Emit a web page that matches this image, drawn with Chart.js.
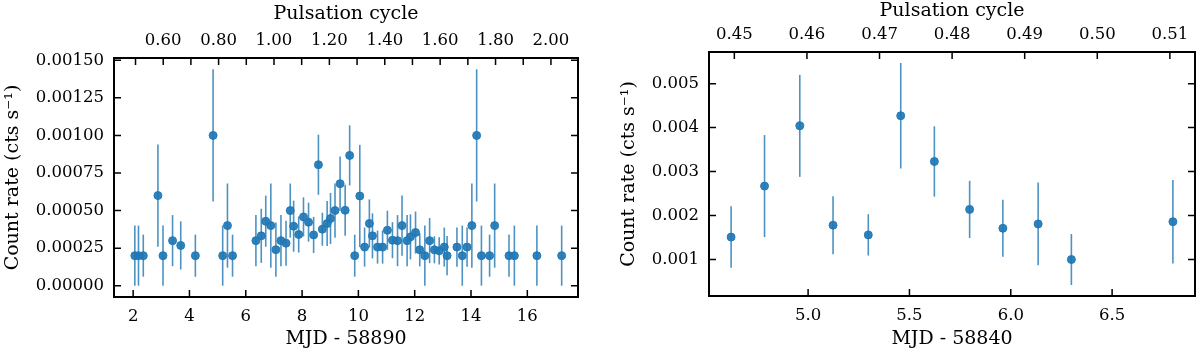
<!DOCTYPE html>
<html>
<head>
<meta charset="utf-8">
<script src="https://cdn.jsdelivr.net/npm/chart.js@4.4.0/dist/chart.umd.min.js"></script>
<style>
  body { margin: 0; background: #fff; }
  #contenedor { position: relative; width: 1200px; height: 352px; }
  .panel { position: absolute; top: 0; width: 600px; height: 352px; }
</style>
</head>
<body>
<div id="contenedor">
  <div class="panel" style="left:0"><canvas id="graficaA" width="600" height="352"></canvas></div>
  <div class="panel" style="left:600px"><canvas id="graficaB" width="600" height="352"></canvas></div>
</div>
<script>
// ---- panel izquierdo (MJD - 58890) ----
const mjdA = [2.06, 2.19, 2.36, 2.88, 3.06, 3.40, 3.69, 4.21, 4.84, 5.18, 5.35, 5.53,
              6.36, 6.55, 6.71, 6.89, 7.07, 7.25, 7.43, 7.58, 7.70, 7.88, 8.05, 8.23, 8.41, 8.58,
              8.72, 8.89, 9.01, 9.17, 9.35, 9.53, 9.69, 9.87, 10.05, 10.22, 10.39, 10.50, 10.68, 10.86,
              11.03, 11.21, 11.39, 11.55, 11.73, 11.85, 12.03, 12.18, 12.36, 12.53, 12.70, 12.87,
              13.05, 13.15, 13.50, 13.69, 13.86, 14.03, 14.20, 14.37, 14.66, 14.84, 15.35, 15.54,
              16.34, 17.22];
const tasaA = [0.00020, 0.00020, 0.00020, 0.00060, 0.00020, 0.00030, 0.000268, 0.00020, 0.00100, 0.00020, 0.00040, 0.00020,
               0.00030, 0.000332, 0.000429, 0.00040, 0.00024, 0.00030, 0.000283, 0.00050, 0.000396, 0.000341, 0.000458, 0.000423, 0.000338, 0.000805,
               0.000376, 0.000414, 0.000447, 0.00050, 0.000679, 0.000502, 0.000867, 0.00020, 0.000597, 0.000257, 0.000414, 0.000332, 0.000257, 0.000257,
               0.000369, 0.000303, 0.00030, 0.00040, 0.00030, 0.000325, 0.000354, 0.000239, 0.00020, 0.00030, 0.000239, 0.000232,
               0.000257, 0.00020, 0.000257, 0.00020, 0.000257, 0.00040, 0.00100, 0.00020, 0.00020, 0.00040, 0.00020, 0.00020,
               0.00020, 0.00020];
const errA = [0.00020, 0.00020, 0.00014, 0.00034, 0.00020, 0.00017, 0.00016, 0.00014, 0.00044, 0.00020, 0.00028, 0.00014,
              0.00017, 0.00018, 0.00017, 0.00028, 0.00018, 0.00017, 0.00015, 0.00018, 0.00017, 0.00012, 0.00013, 0.00013, 0.00012, 0.00020,
              0.00011, 0.00015, 0.00017, 0.00018, 0.00018, 0.00017, 0.00020, 0.00014, 0.00034, 0.00013, 0.00016, 0.00015, 0.00011, 0.00011,
              0.00013, 0.00012, 0.00017, 0.00020, 0.00017, 0.00015, 0.00014, 0.00011, 0.00020, 0.00015, 0.00009, 0.00009,
              0.00013, 0.00013, 0.00013, 0.00020, 0.00013, 0.00028, 0.00044, 0.00020, 0.00014, 0.00028, 0.00014, 0.00020,
              0.00020, 0.00020];
const ticksXA = [2, 4, 6, 8, 10, 12, 14, 16];
const ticksYA = [0, 0.00025, 0.0005, 0.00075, 0.001, 0.00125, 0.0015];
const ticksCicloA = [0.5, 0.6, 0.7, 0.8, 0.9, 1.0, 1.1, 1.2, 1.3, 1.4, 1.5, 1.6, 1.7, 1.8, 1.9, 2.0];

// ---- panel derecho (MJD - 58840) ----
const mjdB = [4.62, 4.785, 4.959, 5.123, 5.297, 5.457, 5.623, 5.797, 5.961, 6.135, 6.299, 6.80];
const tasaB = [0.00151, 0.00267, 0.00404, 0.00178, 0.00156, 0.00427, 0.00323, 0.00214, 0.00171, 0.00181, 0.00100, 0.00186];
const errB = [0.00070, 0.00116, 0.00116, 0.00066, 0.00047, 0.00120, 0.00080, 0.00065, 0.00065, 0.00094, 0.00058, 0.00095];
const ticksXB = [5.0, 5.5, 6.0, 6.5];
const ticksYB = [0.001, 0.002, 0.003, 0.004, 0.005];
const ticksCicloB = [0.45, 0.46, 0.47, 0.48, 0.49, 0.50, 0.51];

// conversion MJD -> ciclo de pulsacion
function cicloA(mjd) { return 0.6 + (mjd - 3.068) / 9.836; }
function cicloB(mjd) { return 0.45 + (mjd - 4.636) * 0.02792; }

const FUENTE = "'DejaVu Serif', serif";
const AZUL = 'rgba(31, 119, 180, 0.92)';
const AZUL_BARRA = 'rgba(31, 119, 180, 0.8)';

// barras de error, marco y ticks hacia dentro (estilo matplotlib)
const estiloMpl = {
    id: 'estiloMpl',
    beforeDatasetsDraw(chart, args, opts) {
        const ctx = chart.ctx;
        const xs = chart.scales.x;
        const ys = chart.scales.y;
        const area = chart.chartArea;
        ctx.save();
        ctx.beginPath();
        ctx.rect(area.left, area.top, area.right - area.left, area.bottom - area.top);
        ctx.clip();
        ctx.strokeStyle = AZUL_BARRA;
        ctx.lineWidth = 1.6;
        opts.x.forEach((v, i) => {
            const px = xs.getPixelForValue(v);
            const y1 = ys.getPixelForValue(opts.y[i] - opts.e[i]);
            const y2 = ys.getPixelForValue(opts.y[i] + opts.e[i]);
            ctx.beginPath();
            ctx.moveTo(px, y1);
            ctx.lineTo(px, y2);
            ctx.stroke();
        });
        ctx.restore();
    },
    afterDraw(chart) {
        const ctx = chart.ctx;
        const a = chart.chartArea;
        const largo = 7;
        ctx.save();
        ctx.strokeStyle = '#000';
        ctx.lineWidth = 1.5;
        ctx.beginPath();
        chart.scales.x.ticks.forEach(t => {
            const p = chart.scales.x.getPixelForValue(t.value);
            ctx.moveTo(p, a.bottom); ctx.lineTo(p, a.bottom - largo);
        });
        chart.scales.xc.ticks.forEach(t => {
            const p = chart.scales.xc.getPixelForValue(t.value);
            ctx.moveTo(p, a.top); ctx.lineTo(p, a.top + largo);
        });
        chart.scales.y.ticks.forEach(t => {
            const p = chart.scales.y.getPixelForValue(t.value);
            ctx.moveTo(a.left, p); ctx.lineTo(a.left + largo, p);
            ctx.moveTo(a.right, p); ctx.lineTo(a.right - largo, p);
        });
        ctx.stroke();
        ctx.lineWidth = 2;
        ctx.strokeRect(a.left, a.top, a.right - a.left, a.bottom - a.top);
        ctx.restore();
    }
};

function ejeBase(extra) {
    return Object.assign({
        type: 'linear',
        grid: { display: false, drawTicks: false },
        border: { display: false },
        ticks: { color: '#000', font: { family: FUENTE, size: 16.5 }, autoSkip: false, maxRotation: 0 },
        title: { display: true, color: '#000', font: { family: FUENTE, size: 19 } }
    }, extra);
}

function crearGrafica(id, cfg) {
    const xmin = cfg.xmin, xmax = cfg.xmax;
    const ejeX = ejeBase({ position: 'bottom', min: xmin, max: xmax });
    ejeX.ticks = Object.assign({}, ejeX.ticks, { padding: 10, callback: cfg.fmtX });
    ejeX.title = Object.assign({}, ejeX.title, { text: cfg.tituloX, padding: { top: 0, bottom: 2 } });
    ejeX.afterBuildTicks = s => { s.ticks = cfg.ticksX.map(v => ({ value: v })); };
    ejeX.afterFit = s => { s.height = cfg.altoAbajo; };

    const ejeC = ejeBase({ position: 'top', axis: 'x', min: cfg.ciclo(xmin), max: cfg.ciclo(xmax) });
    ejeC.ticks = Object.assign({}, ejeC.ticks, { padding: cfg.padCiclo, callback: cfg.fmtC });
    ejeC.title = Object.assign({}, ejeC.title, { text: 'Pulsation cycle', padding: { top: cfg.padTituloC, bottom: 0 } });
    ejeC.afterBuildTicks = s => { s.ticks = cfg.ticksC.map(v => ({ value: v })); };
    ejeC.afterFit = s => { s.height = cfg.altoArriba; };

    const ejeY = ejeBase({ position: 'left', min: cfg.ymin, max: cfg.ymax });
    ejeY.ticks = Object.assign({}, ejeY.ticks, { padding: 10, callback: cfg.fmtY });
    ejeY.title = Object.assign({}, ejeY.title, { text: 'Count rate (cts s\u207B\u00B9)', padding: { top: cfg.padTituloY, bottom: 0 } });
    ejeY.afterBuildTicks = s => { s.ticks = cfg.ticksY.map(v => ({ value: v })); };
    ejeY.afterFit = s => { s.width = cfg.anchoIzq; };

    new Chart(document.getElementById(id).getContext('2d'), {
        type: 'scatter',
        data: {
            datasets: [{
                data: cfg.mjd.map((m, i) => ({ x: m, y: cfg.tasa[i] })),
                backgroundColor: AZUL,
                borderColor: AZUL,
                borderWidth: 1,
                pointRadius: 4,
                xAxisID: 'x',
                yAxisID: 'y'
            }]
        },
        options: {
            responsive: false,
            animation: false,
            devicePixelRatio: 1,
            layout: { padding: { left: 0, right: cfg.padDer, top: 0, bottom: 0 } },
            plugins: {
                legend: { display: false },
                tooltip: { enabled: false },
                estiloMpl: { x: cfg.mjd, y: cfg.tasa, e: cfg.err }
            },
            scales: { x: ejeX, xc: ejeC, y: ejeY }
        },
        plugins: [estiloMpl]
    });
}

crearGrafica('graficaA', {
    mjd: mjdA, tasa: tasaA, err: errA,
    xmin: 1.32, xmax: 17.8, ymin: -0.000075, ymax: 0.001515,
    ticksX: ticksXA, ticksY: ticksYA, ticksC: ticksCicloA, ciclo: cicloA,
    fmtX: v => String(v),
    fmtY: v => v.toFixed(5),
    fmtC: v => (Math.round(v * 10) % 2 === 0 ? v.toFixed(2) : ''),
    tituloX: 'MJD - 58890',
    anchoIzq: 114, padDer: 22, altoArriba: 58, altoAbajo: 55,
    padCiclo: 7, padTituloC: 3, padTituloY: 2
});

crearGrafica('graficaB', {
    mjd: mjdB, tasa: tasaB, err: errB,
    xmin: 4.511, xmax: 6.909, ymin: 0.00017, ymax: 0.00572,
    ticksX: ticksXB, ticksY: ticksYB, ticksC: ticksCicloB, ciclo: cicloB,
    fmtX: v => v.toFixed(1),
    fmtY: v => v.toFixed(3),
    fmtC: v => v.toFixed(2),
    tituloX: 'MJD - 58840',
    anchoIzq: 109, padDer: 3, altoArriba: 52, altoAbajo: 56,
    padCiclo: 7, padTituloC: 0, padTituloY: 18
});
</script>
</body>
</html>
